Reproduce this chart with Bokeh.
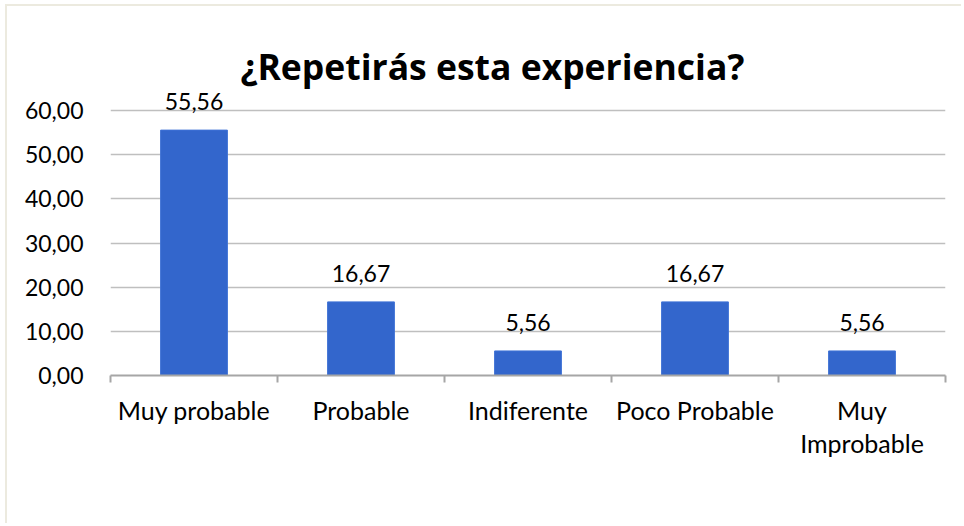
from bokeh.plotting import figure
from bokeh.models import FixedTicker, ColumnDataSource, LabelSet, Label
from bokeh.core.properties import value
from bokeh.embed import file_html
from bokeh.resources import INLINE

title_text = "¿Repetirás esta experiencia?"
categories = ["Muy probable", "Probable", "Indiferente", "Poco Probable", "Muy\nImprobable"]
values = [55.56, 16.67, 5.56, 16.67, 5.56]
y_ticks = [0, 10, 20, 30, 40, 50, 60]

FONT = "Lato"

def es(v):
    return f"{v:.2f}".replace(".", ",")

n = len(categories)
xs = [i + 0.5 for i in range(n)]
src = ColumnDataSource(dict(x=xs, top=values, lbl=[es(v) for v in values]))

# frame extends up to the canvas top (invisible), so that the title label is not clipped
p = figure(width=956, height=519, x_range=(0, n), y_range=(0, 83.55), title=None,
           output_backend="svg", toolbar_location=None,
           min_border_left=103, min_border_right=18,
           min_border_top=0, min_border_bottom=150)
p.margin = (4, 0, 0, 5)
p.styles = {"border-top": "2px solid #ECEADF", "border-left": "2px solid #ECEADF"}
p.outline_line_color = None
p.background_fill_color = "white"

p.vbar(x="x", top="top", width=0.4, source=src, fill_color="#3366CC", line_color="#3F72D6", line_width=1)

labels = LabelSet(x="x", y="top", text="lbl", source=src, text_align="center", text_baseline="bottom",
                  y_offset=20, text_font=value(FONT), text_font_size="23px", text_color="#000000")
p.add_layout(labels)

# y axis
p.yaxis.ticker = FixedTicker(ticks=y_ticks)
p.yaxis.major_label_overrides = {t: es(t) for t in y_ticks}
p.yaxis.axis_line_color = None
p.yaxis.major_tick_line_color = None
p.yaxis.major_tick_out = 0
p.yaxis.minor_tick_line_color = None
p.yaxis.major_label_text_font = FONT
p.yaxis.major_label_text_font_size = "23px"
p.yaxis.major_label_text_color = "#000000"
p.yaxis.major_label_standoff = 27

p.ygrid.ticker = FixedTicker(ticks=y_ticks)
p.ygrid.grid_line_color = "#BFBFBF"
p.ygrid.grid_line_width = 1.5
p.xgrid.grid_line_color = None

# x axis
p.xaxis.ticker = FixedTicker(ticks=xs, minor_ticks=list(range(n + 1)))
p.xaxis.major_label_overrides = {x: c for x, c in zip(xs, categories)}
p.xaxis.major_tick_line_color = None
p.xaxis.major_tick_out = 0
p.xaxis.minor_tick_line_color = "#A6A6A6"
p.xaxis.minor_tick_line_width = 2
p.xaxis.minor_tick_out = 7
p.xaxis.minor_tick_in = 0
p.xaxis.axis_line_color = "#A6A6A6"
p.xaxis.axis_line_width = 2
p.xaxis.major_label_text_font = FONT
p.xaxis.major_label_text_font_size = "25px"
p.xaxis.major_label_text_line_height = 1.1
p.xaxis.major_label_text_color = "#000000"
p.xaxis.major_label_standoff = 12

title = Label(x=130, y=310, x_units="screen", y_units="screen", text=title_text,
              text_font="Open Sans", text_font_size="35.5px", text_font_style="bold",
              text_color="#000000", text_baseline="alphabetic", text_align="left", level="overlay")
p.add_layout(title)

open("out.html", "w").write(file_html(p, INLINE))
